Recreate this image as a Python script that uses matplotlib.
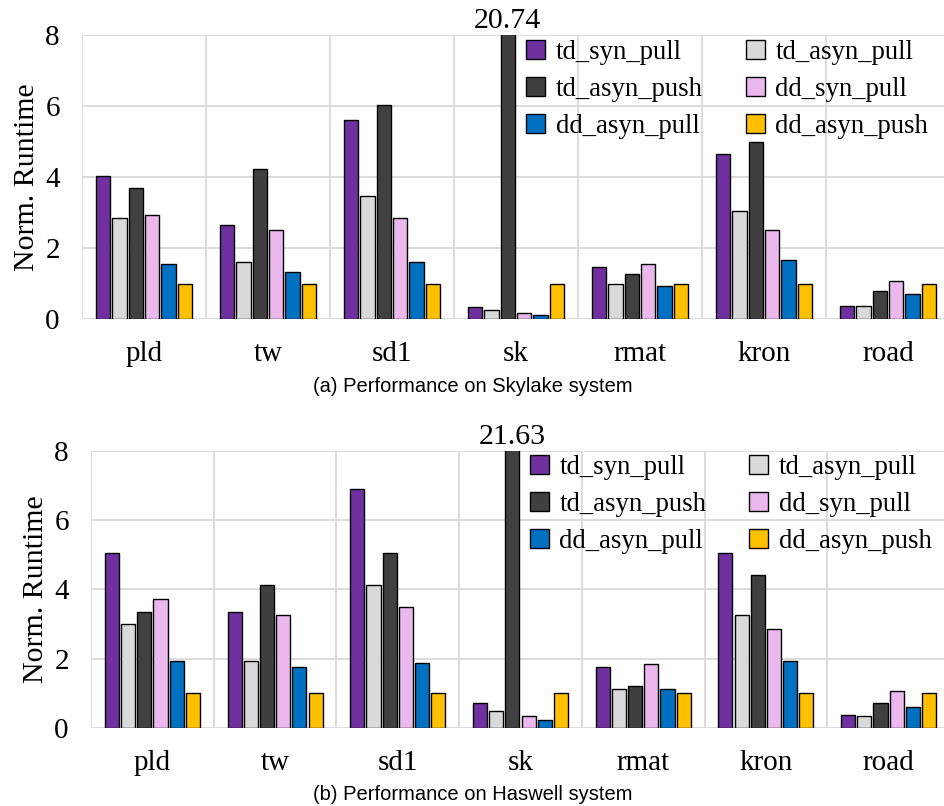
import numpy as np
import matplotlib.pyplot as plt
from matplotlib.patches import Patch

graphs = ["pld", "tw", "sd1", "sk", "rmat", "kron", "road"]
series = ["td_syn_pull", "td_asyn_pull", "td_asyn_push", "dd_syn_pull", "dd_asyn_pull", "dd_asyn_push"]
colors = ["#7030A0", "#D9D9D9", "#404040", "#EBB8ED", "#0070C0", "#FFC000"]

# Skylake (rows = series, cols = graphs)
skylake = [
    [4.05, 2.65, 5.63, 0.33, 1.48, 4.66, 0.38],
    [2.85, 1.61, 3.47, 0.27, 0.99, 3.04, 0.38],
    [3.71, 4.24, 6.04, 20.74, 1.28, 5.00, 0.80],
    [2.95, 2.52, 2.85, 0.18, 1.56, 2.52, 1.09],
    [1.56, 1.33, 1.61, 0.13, 0.94, 1.67, 0.71],
    [1.00, 1.00, 1.00, 1.00, 1.00, 1.00, 1.00],
]

# Haswell
haswell = [
    [5.05, 3.35, 6.89, 0.72, 1.75, 5.05, 0.38],
    [3.01, 1.94, 4.13, 0.48, 1.13, 3.25, 0.34],
    [3.35, 4.13, 5.05, 21.63, 1.22, 4.41, 0.72],
    [3.73, 3.25, 3.49, 0.34, 1.85, 2.87, 1.06],
    [1.94, 1.75, 1.89, 0.24, 1.13, 1.94, 0.62],
    [1.00, 1.00, 1.00, 1.00, 1.00, 1.00, 1.00],
]

captions = ["(a) Performance on Skylake system", "(b) Performance on Haswell system"]

serif = "Liberation Serif"
sans = "Liberation Sans"

fig = plt.figure(figsize=(9.45, 8.06), dpi=100)
axes_pos = [[0.0868, 0.604, 0.9185, 0.352], [0.0963, 0.0968, 0.909, 0.3437]]
legend_x = [0.512, 0.511]
caption_y = [0.521, 0.014]

pitch = 0.132
width = 0.115
x = np.arange(len(graphs))

for k, data in enumerate([skylake, haswell]):
    ax = fig.add_axes(axes_pos[k])
    for i, vals in enumerate(data):
        off = (i - 2.5) * pitch
        ax.bar(x + off, vals, width, color=colors[i], edgecolor="black", linewidth=1.0, zorder=3)
        for j, v in enumerate(vals):
            if v > 8:
                ax.annotate(f"{v:.2f}", (x[j] + off, 8), xytext=(0, 1), textcoords="offset points",
                            ha="center", va="bottom", fontsize=21.5, family=serif, annotation_clip=False)
    ax.set_ylim(0, 8)
    ax.set_xlim(-0.5, len(graphs) - 0.5)
    ax.set_yticks([0, 2, 4, 6, 8])
    ax.set_xticks(x)
    ax.set_xticklabels(graphs, family=serif, fontsize=21)
    ax.set_xticks(np.arange(len(graphs) + 1) - 0.5, minor=True)
    for lab in ax.get_yticklabels():
        lab.set_family(serif)
        lab.set_fontsize(21)
    ax.tick_params(axis="both", which="both", length=0)
    ax.tick_params(axis="y", pad=16)
    ax.tick_params(axis="x", pad=16)
    ax.grid(axis="y", color="#D9D9D9", linewidth=1.3, zorder=0)
    ax.grid(axis="x", which="minor", color="#D9D9D9", linewidth=1.3, zorder=0)
    for s in ax.spines.values():
        s.set_visible(False)
    ax.set_ylabel("Norm. Runtime", family=serif, fontsize=21.5, labelpad=4)

    order = [0, 2, 4, 1, 3, 5]
    handles = [Patch(facecolor=colors[i], edgecolor="black", label=series[i]) for i in order]
    ax.legend(handles=handles, ncol=2, loc="upper left", bbox_to_anchor=(legend_x[k], 0.985),
              frameon=False, prop={"family": serif, "size": 19.3}, handlelength=0.7,
              handleheight=0.7, handletextpad=0.4, columnspacing=1.6, labelspacing=0.45,
              borderpad=0, borderaxespad=0)

    fig.text(0.5, caption_y[k], captions[k], ha="center", va="center", family=sans, fontsize=14.5)

fig.savefig("out.png", dpi=100)
